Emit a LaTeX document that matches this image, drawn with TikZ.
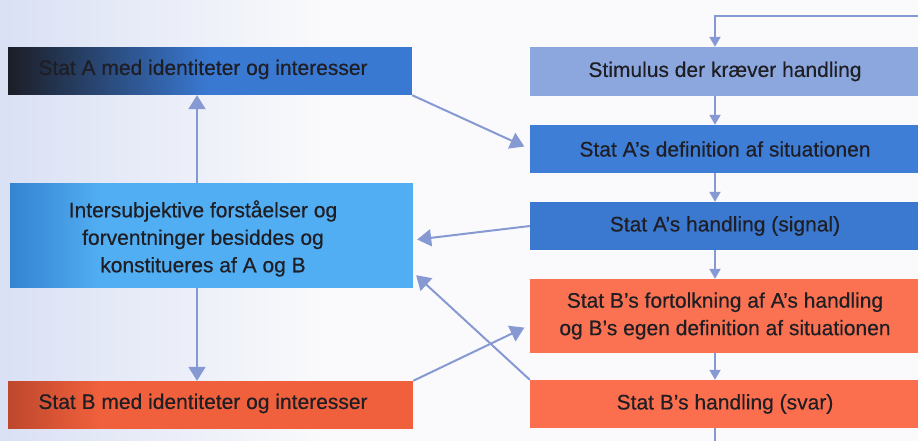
\documentclass[tikz,border=0pt]{standalone}
\usepackage{fontspec}
\setmainfont[FakeBold=0.4]{Liberation Sans}
\usetikzlibrary{arrows.meta,fadings}
\definecolor{bgc}{RGB}{250,250,252}
\definecolor{bgl}{RGB}{218,225,245}
\definecolor{ablue}{RGB}{58,121,210}
\definecolor{adark}{RGB}{28,30,38}
\definecolor{ilight}{RGB}{82,174,242}
\definecolor{idark}{RGB}{52,132,210}
\definecolor{borange}{RGB}{240,96,60}
\definecolor{bdark}{RGB}{190,72,46}
\definecolor{stimc}{RGB}{140,167,221}
\definecolor{adefc}{RGB}{63,126,214}
\definecolor{ahandc}{RGB}{59,120,207}
\definecolor{bintc}{RGB}{251,114,82}
\definecolor{bhandc}{RGB}{251,110,78}
\definecolor{arrc}{RGB}{135,153,210}
\definecolor{textc}{RGB}{30,30,36}
\tikzset{
  lbox/.style={rectangle, inner sep=0pt, minimum width=404pt, minimum height=48pt},
  rbox/.style={rectangle, inner sep=0pt, minimum width=390pt, minimum height=48pt,
               font=\fontsize{21}{27.5}\selectfont, text=textc, align=center},
  txt/.style={inner sep=0pt, font=\fontsize{21}{27.5}\selectfont, text=textc, align=center},
  conn/.style={draw=arrc, line width=2pt},
  bigtip/.style={-{Triangle[width=17pt,length=14pt]}},
  smalltip/.style={-{Triangle[width=11pt,length=10pt]}}
}
\begin{document}
\begin{tikzpicture}[x=1pt,y=-1pt]
\useasboundingbox (0,0) rectangle (918,441);
\clip (0,0) rectangle (918,441);
\fill[bgc] (0,0) rectangle (918,441);
\fill[bgl, path fading=east] (0,0) rectangle (320,441);

\coordinate (lx) at (197,0);
\coordinate (rx) at (715,0);
\coordinate (topR) at (920,16);
\coordinate (botE) at (715,441);

% left column
\node[lbox, fill=ablue] (A) at (210,71) {};
\fill[adark, path fading=east] (A.north west) rectangle ([xshift=200pt]A.south west);
\node[txt] (At) at (203,69.5) {Stat A med identiteter og interesser};

\node[lbox, minimum width=403pt, minimum height=105pt, fill=ilight] (I) at (211.5,235.5) {};
\fill[idark, path fading=east] (I.north west) rectangle ([xshift=90pt]I.south west);
\node[txt] (It) at (203,238.5) {Intersubjektive forståelser og\\forventninger besiddes og\\konstitueres af A og B};

\node[lbox, minimum width=405pt, fill=borange] (B) at (210.5,405) {};
\fill[bdark, path fading=east] (B.north west) rectangle ([xshift=90pt]B.south west);
\node[txt] (Bt) at (203,403.5) {Stat B med identiteter og interesser};

% right column
\node[rbox, minimum height=49pt, fill=stimc] (S) at (725,71.5) {Stimulus der kræver handling};
\node[rbox, fill=adefc] (Ad) at (725,149) {Stat A’s definition af situationen};
\node[rbox, fill=ahandc] (Ah) at (725,226) {Stat A’s handling (signal)};
\node[rbox, minimum height=74pt, fill=bintc] (Bi) at (725,316) {Stat B’s fortolkning af A’s handling\\og B’s egen definition af situationen};
\node[rbox, fill=bhandc] (Bh) at (725,404) {Stat B’s handling (svar)};

% right vertical connectors
\draw[conn, smalltip] (topR) -| (rx |- S.north);
\draw[conn, smalltip] (rx |- S.south) -- (rx |- Ad.north);
\draw[conn, smalltip] (rx |- Ad.south) -- (rx |- Ah.north);
\draw[conn, smalltip] (rx |- Ah.south) -- (rx |- Bi.north);
\draw[conn, smalltip] (rx |- Bi.south) -- (rx |- Bh.north);
\draw[conn] (rx |- Bh.south) -- (botE);

% left vertical connectors
\draw[conn, bigtip] (lx |- I.north) -- (lx |- A.south);
\draw[conn, bigtip] (lx |- I.south) -- (lx |- B.north);

% diagonals
\draw[conn, bigtip, shorten >=6pt] (A.south east) -- (Ad.west);
\draw[conn, bigtip, shorten >=4pt] (Ah.west) -- ([yshift=-4.5pt]I.east);
\draw[conn, bigtip, shorten >=4pt] (Bh.north west) -- ([yshift=-37pt]I.east);
\draw[conn, bigtip, shorten >=6pt] (B.north east) -- ([yshift=-9pt]Bi.west);
\end{tikzpicture}
\end{document}
